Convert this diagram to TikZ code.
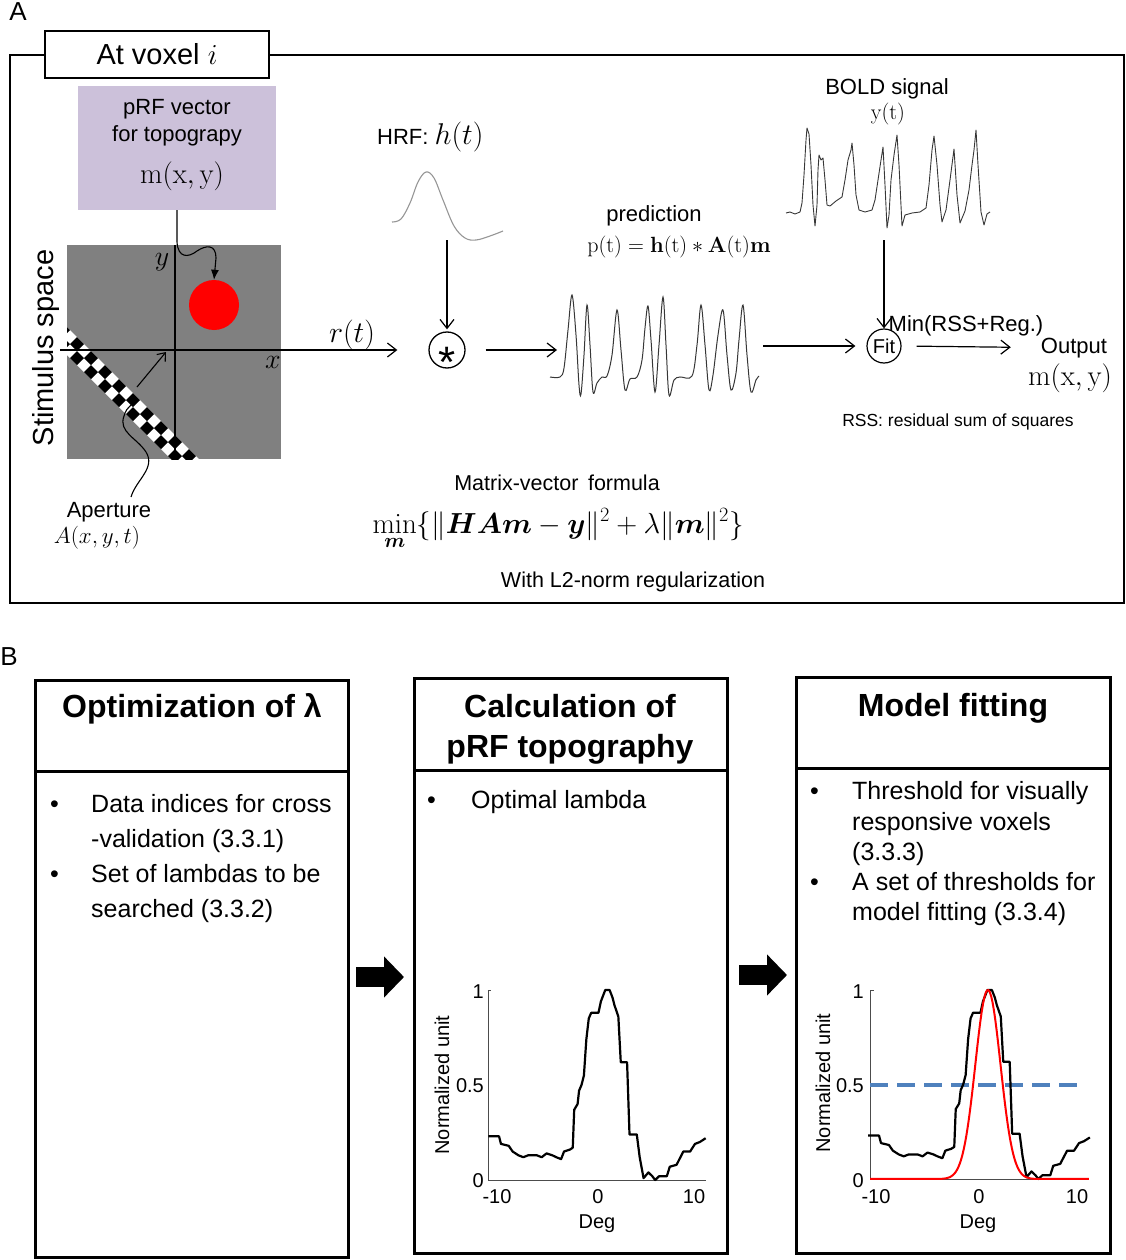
\RequirePackage{fix-cm}
\documentclass[tikz,border=0pt]{standalone}
\usepackage{amsmath,bm}
\usepackage[no-math]{fontspec}
\setmainfont{Liberation Sans}
\usetikzlibrary{arrows.meta,calc}
\definecolor{lav}{RGB}{204,193,218}
\definecolor{stimgray}{RGB}{128,128,128}
\definecolor{thrblue}{RGB}{79,129,189}
\definecolor{hrfgray}{RGB}{150,150,150}
\definecolor{sig}{RGB}{55,55,55}
\newcommand\prfcurve{(-11.2,0.23) -- (-10.1,0.23) -- (-9.9,0.19) -- (-9.1,0.18) -- (-8.7,0.15) -- (-8.1,0.13) -- (-7.6,0.12) -- (-7.1,0.13) -- (-6.2,0.13) -- (-5.7,0.12) -- (-5.2,0.14) -- (-4.6,0.13) -- (-4.2,0.12) -- (-3.7,0.11) -- (-3.4,0.15) -- (-2.8,0.16) -- (-2.5,0.17) -- (-2.35,0.37) -- (-2.0,0.40) -- (-1.85,0.47) -- (-1.6,0.50) -- (-1.35,0.55) -- (-1.1,0.74) -- (-0.85,0.85) -- (-0.6,0.88) -- (0.15,0.88) -- (0.4,0.94) -- (0.85,1.0) -- (1.3,1.0) -- (1.6,0.96) -- (1.8,0.92) -- (2.2,0.86) -- (2.45,0.62) -- (3.1,0.62) -- (3.35,0.24) -- (4.1,0.24) -- (4.4,0.12) -- (4.8,0.01) -- (5.3,0.04) -- (5.7,0.02) -- (6.0,0.0) -- (6.4,0.02) -- (7.2,0.02) -- (7.5,0.07) -- (8.2,0.08) -- (8.6,0.12) -- (8.9,0.15) -- (9.6,0.15) -- (10.1,0.19) -- (10.6,0.20) -- (11.2,0.22)}
\begin{document}
\begin{tikzpicture}[x=1pt,y=-1pt,
  lbl/.style={inner sep=0pt, font=\fontsize{22}{26}\selectfont},
  conn/.style={line width=1.2pt, -{Straight Barb[length=9pt,width=14pt]}},
  smallconn/.style={line width=1.1pt, -{Straight Barb[length=7pt,width=11pt]}},
  bigarrow/.style={line width=20pt, -{Triangle[length=20pt,width=40pt]}},
  panelbox/.style={draw, line width=3pt, inner sep=0pt},
  ttl/.style={inner sep=0pt, anchor=base, font=\fontsize{32}{38}\selectfont\bfseries},
  bul/.style={inner sep=0pt, anchor=base west, font=\fontsize{25}{29}\selectfont},
  ticklbl/.style={inner sep=0pt, font=\fontsize{20}{24}\selectfont},
  axisline/.style={line width=0.8pt, black!70},
  curveline/.style={line width=2.2pt, line join=round}]
\useasboundingbox (0,0) rectangle (1125,1260);

% ================= Panel A =================
\node[lbl, anchor=base, font=\fontsize{26}{30}\selectfont] (labA) at (18,21) {A};
\draw[line width=1.5pt] (10,55) rectangle (1124,603);
\node[draw, fill=white, line width=1.2pt, minimum width=224pt, minimum height=47pt, inner sep=0pt,
      font=\fontsize{29}{34}\selectfont] (voxel) at (157,54.5) {At voxel $i$};

% pRF vector box
\node[fill=lav, minimum width=198pt, minimum height=124pt, inner sep=0pt] (prf) at (177,148) {};
\node[lbl, anchor=base] (prf1) at (177,115) {pRF vector};
\node[lbl, anchor=base] (prf2) at (177,142) {for topograpy};
\node[lbl, anchor=base, font=\fontsize{29}{34}\selectfont] (prf3) at (182,183) {$\mathrm{m}(\mathrm{x},\mathrm{y})$};

% stimulus space
\node[fill=stimgray, minimum size=214pt, inner sep=0pt] (stim) at (174,352) {};
\begin{scope}
  \clip (67,245) rectangle (281,459);
  \begin{scope}[shift={(0,274)}, rotate=-45]
    \fill[white] (55,-9.9) rectangle (410,9.9);
    \foreach \i in {6,8,...,40} {
      \fill[black] ({\i*9.9},-9.9) rectangle ({(\i+1)*9.9},0);
      \fill[black] ({(\i+1)*9.9},0) rectangle ({(\i+2)*9.9},9.9);
    }
  \end{scope}
\end{scope}
\node[circle, fill=red, minimum size=50pt, inner sep=0pt] (dot) at (214,305) {};
\draw[line width=1.3pt] (175,245) -- (175,459);
\node[lbl, anchor=base, font=\fontsize{28}{32}\selectfont] (ylab) at (162,265) {$y$};
\node[lbl, anchor=base, font=\fontsize{28}{32}\selectfont] (xlab) at (273,368) {$x$};
\node[lbl, anchor=base, rotate=90, font=\fontsize{29}{34}\selectfont] (stimtxt) at (53,348) {Stimulus space};

% HRF and convolution
\node[lbl, anchor=base west] (hrftxt) at (377,145) {HRF: {\fontsize{30}{36}\selectfont$h(t)$}};
\draw[hrfgray, line width=1.1pt] plot[smooth, tension=0.6] coordinates {(392,222) (401,219) (410,203) (418,182) (426,172) (434,178) (443,200) (454,226) (465,238) (476,240) (490,236) (503,231)};
\node[circle, draw, line width=1.3pt, minimum size=36pt, inner sep=0pt] (conv) at (447,350) {};
\node[inner sep=0pt, font=\fontsize{44}{44}\selectfont] (convsym) at (447,362) {*};
\coordinate (hrfout) at (447,240);
\draw[conn, shorten >=2pt] (hrfout) -- (conv.north);

\coordinate (axstart) at (60,350);
\draw[conn, shorten >=31pt] (axstart) -- (conv.west);
\node[lbl, anchor=base, font=\fontsize{30}{36}\selectfont] (rlab) at (352,342) {$r(t)$};

% prediction
\node[lbl, anchor=base] (predtxt) at (654,221) {prediction};
\node[lbl, anchor=base] (predeq) at (679,252) {$\mathrm{p(t)}=\mathbf{h}(\mathrm{t})\ast\mathbf{A}(\mathrm{t})\mathbf{m}$};
\coordinate (predin) at (557,350);
\draw[conn, shorten <=20pt] (conv.east) -- (predin);
\draw[sig, line width=1pt] plot[smooth, tension=0.55] coordinates {(550,377) (560,377) (564,368) (568,330) (572,295) (576,335) (579,385) (581,394) (584,355) (587,305) (590,345) (593,392) (597,383) (602,377) (607,376) (612,355) (617,310) (621,350) (625,390) (630,379) (637,377) (642,360) (645,328) (648,306) (651,340) (655,392) (659,345) (663,297) (666,345) (669,395) (674,380) (680,377) (692,376) (697,345) (701,305) (705,345) (709,390) (713,375) (718,335) (723,310) (727,355) (731,390) (736,373) (739,340) (743,305) (747,355) (751,392) (756,380) (759,376)};

% BOLD
\node[lbl, anchor=base] (boldtxt) at (887,95) {BOLD signal};
\node[lbl, anchor=base] (boldy) at (888,120) {$\mathrm{y(t)}$};
\draw[sig, line width=0.9pt, line join=round] (786,213) -- (790,212) -- (795,214) -- (800,212) -- (802,203) -- (804,175) -- (806,140) -- (807,128) -- (809,134) -- (811,165) -- (813,205) -- (815,226) -- (817,205) -- (818,170) -- (819,155) -- (821,160) -- (823,158) -- (825,180) -- (827,205) -- (830,206) -- (836,201) -- (842,197) -- (845,180) -- (848,160) -- (851,150) -- (852,143) -- (854,165) -- (856,195) -- (859,210) -- (865,212) -- (872,210) -- (875,200) -- (878,180) -- (881,160) -- (883,147) -- (885,185) -- (887,228) -- (889,215) -- (891,180) -- (894,155) -- (897,135) -- (899,165) -- (902,226) -- (905,215) -- (912,213) -- (920,212) -- (926,208) -- (929,185) -- (932,150) -- (934,136) -- (937,165) -- (940,205) -- (942,222) -- (946,210) -- (950,180) -- (954,149) -- (957,195) -- (960,223) -- (965,211) -- (969,190) -- (972,165) -- (974,150) -- (976,130) -- (978,165) -- (981,212) -- (984,225) -- (987,214) -- (990,212);

% Fit
\node[circle, draw, line width=1.2pt, minimum size=34pt, inner sep=0pt, font=\fontsize{20}{24}\selectfont] (fit) at (884,346) {Fit};
\coordinate (boldout) at (884,240);
\draw[conn] (boldout) -- (fit.north);
\coordinate (predout) at (763,346);
\draw[conn, shorten >=11pt] (predout) -- (fit.west);
\node[lbl, anchor=base] (mintxt) at (966,331) {Min(RSS+Reg.)};
\node[lbl, anchor=base] (outtxt) at (1074,353) {Output};
\draw[conn, shorten <=15pt, shorten >=30pt] (fit.east) -- (outtxt.west);
\node[lbl, anchor=base, font=\fontsize{29}{34}\selectfont] (outm) at (1070,385) {$\mathrm{m}(\mathrm{x},\mathrm{y})$};
\node[lbl, anchor=base, font=\fontsize{17.5}{21}\selectfont] (rsstxt) at (958,426) {RSS: residual sum of squares};

% formula
\node[lbl, anchor=base, font=\fontsize{21.5}{26}\selectfont] (mvtxt) at (557,490) {Matrix-vector\, formula};
\node[lbl, anchor=base, font=\fontsize{29}{34}\selectfont] (formula) at (558,533) {$\displaystyle\min_{\bm m}\{\|\bm{HAm}-\bm y\|^2+\lambda\|\bm m\|^2\}$};
\node[lbl, anchor=base, font=\fontsize{21.5}{26}\selectfont] (l2txt) at (633,587) {With L2-norm regularization};

% pRF -> red dot
\draw[line width=1.1pt, -{Latex[length=10pt,width=8pt]}] (prf.south) -- (177,242) .. controls (178,258) and (188,258) .. (197,251) .. controls (206,245) and (216,244) .. (216,258) -- (dot.north);

% Aperture
\node[lbl, anchor=base] (aptxt) at (109,517) {Aperture};
\node[lbl, anchor=base, font=\fontsize{23}{28}\selectfont] (apeq) at (97,543) {$A(x,y,t)$};
\coordinate (apw) at (131,497);
\coordinate (apend) at (133,403);
\draw[line width=1.1pt] (apw) .. controls (136,480) and (156,468) .. (146,452) .. controls (137,438) and (118,432) .. (124,416) .. controls (126,410) .. (apend);
\coordinate (aps) at (137,387);
\coordinate (apt) at (166,352);
\draw[smallconn] (aps) -- (apt);

% ================= Panel B =================
\node[lbl, anchor=base, font=\fontsize{26}{30}\selectfont] (labB) at (9,665) {B};

\node[panelbox, minimum width=313pt, minimum height=577pt] (box1) at (191.5,968.5) {};
\node[panelbox, minimum width=313pt, minimum height=575pt] (box2) at (570.5,965.5) {};
\node[panelbox, minimum width=314pt, minimum height=576pt] (box3) at (953,965) {};
\draw[line width=3pt] (35,771) -- (348,771);
\draw[line width=3pt] (414,770) -- (727,770);
\draw[line width=3pt] (796,768) -- (1110,768);

\node[ttl] (t1) at (192,717) {Optimization of λ};
\node[ttl] (t2a) at (570,717) {Calculation of};
\node[ttl] (t2b) at (570,757) {pRF topography};
\node[ttl] (t3) at (953,716) {Model fitting};

\node[bul] (b1a) at (50,812) {•};
\node[bul] (b1a1) at (91,812) {Data indices for cross};
\node[bul] (b1a2) at (91,847) {-validation (3.3.1)};
\node[bul] (b1b) at (50,882) {•};
\node[bul] (b1b1) at (91,882) {Set of lambdas to be};
\node[bul] (b1b2) at (91,917) {searched (3.3.2)};

\node[bul] (b2a) at (427,808) {•};
\node[bul] (b2a1) at (471,808) {Optimal lambda};

\node[bul] (b3a) at (810,799) {•};
\node[bul] (b3a1) at (852,799) {Threshold for visually};
\node[bul] (b3a2) at (852,830) {responsive voxels};
\node[bul] (b3a3) at (852,860) {(3.3.3)};
\node[bul] (b3b) at (810,890) {•};
\node[bul] (b3b1) at (852,890) {A set of thresholds for};
\node[bul] (b3b2) at (852,920) {model fitting (3.3.4)};

% big arrows
\coordinate (ar) at (0,977);
\draw[bigarrow, shorten <=6.5pt, shorten >=8.5pt] (box1.east |- ar) -- (box2.west |- ar);
\coordinate (ar2) at (0,975);
\draw[bigarrow, shorten <=10.5pt, shorten >=7.5pt] (box2.east |- ar2) -- (box3.west |- ar2);

% plot in box 2
\begin{scope}[shift={(597,1180)}, x=9.7pt, y=190pt]
  \draw[axisline] (-11.24,1) -- (-11.24,0) -- (11.24,0);
  \draw[axisline] (-11.24,1) -- ++(0.35,0);
  \draw[curveline] \prfcurve;
\end{scope}
\node[ticklbl, anchor=base east] (p2y1) at (484,998) {1};
\node[ticklbl, anchor=base east] (p2y5) at (484,1092) {0.5};
\node[ticklbl, anchor=base east] (p2y0) at (484,1187) {0};
\node[ticklbl, anchor=base] (p2xm) at (497,1203) {-10};
\node[ticklbl, anchor=base] (p2x0) at (598,1203) {0};
\node[ticklbl, anchor=base] (p2xp) at (694,1203) {10};
\node[ticklbl, anchor=base] (p2deg) at (597,1228) {Deg};
\node[ticklbl, anchor=base, rotate=90] (p2nu) at (449,1085) {Normalized unit};

% plot in box 3
\begin{scope}[shift={(979,1179)}, x=9.9pt, y=189pt]
  \draw[axisline] (-11.0,1) -- (-11.0,0) -- (11.1,0);
  \draw[axisline] (-11.0,1) -- ++(0.35,0);
  \draw[thrblue, line width=4pt, dash pattern=on 18pt off 9pt] (-11.0,0.5) -- (10.0,0.5);
  \draw[curveline] \prfcurve;
  \draw[red, line width=2pt] plot[domain=-11:11.1, samples=160] (\x,{exp(max(-9,-((\x-0.9)*(\x-0.9))/3.2258))});
\end{scope}
\node[ticklbl, anchor=base east] (p3y1) at (864,998) {1};
\node[ticklbl, anchor=base east] (p3y5) at (864,1092) {0.5};
\node[ticklbl, anchor=base east] (p3y0) at (864,1187) {0};
\node[ticklbl, anchor=base] (p3xm) at (876,1203) {-10};
\node[ticklbl, anchor=base] (p3x0) at (979,1203) {0};
\node[ticklbl, anchor=base] (p3xp) at (1077,1203) {10};
\node[ticklbl, anchor=base] (p3deg) at (978,1228) {Deg};
\node[ticklbl, anchor=base, rotate=90] (p3nu) at (830,1083) {Normalized unit};
\end{tikzpicture}
\end{document}
